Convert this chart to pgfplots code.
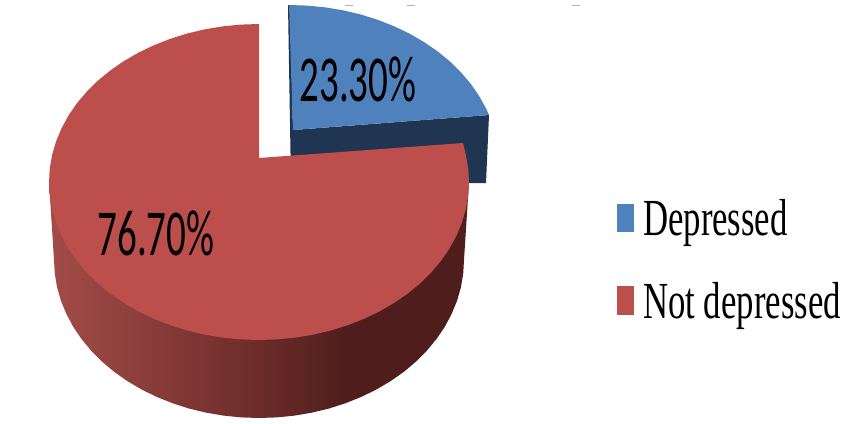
\documentclass[border=0pt]{standalone}
\usepackage{pgfplots}
\pgfplotsset{compat=1.18}
\usepackage{fontspec}
\setmainfont{Liberation Serif}
\newfontfamily\lab{Carlito}
\definecolor{pieblue}{HTML}{4F81BD}
\definecolor{piedark}{HTML}{1F3552}
\definecolor{piered}{HTML}{BC4E4B}
\definecolor{sideA}{HTML}{A34C49}
\definecolor{sideB}{HTML}{6C2C29}
\definecolor{sideC}{HTML}{4F1E1C}
\pgfdeclarehorizontalshading{sideshade}{100bp}{color(0bp)=(sideA);color(25bp)=(sideA);color(50bp)=(sideB);color(60bp)=(sideC);color(100bp)=(sideC)}
\begin{document}
\begin{tikzpicture}
\useasboundingbox (0,0) rectangle (851pt,423pt);
\begin{axis}[
  at={(0,0)}, anchor=south west,
  scale only axis, width=851pt, height=423pt,
  xmin=0, xmax=851, ymin=0, ymax=423, y dir=reverse,
  hide axis, clip=true]
% faint ticks at the top
\addplot[gray!60, line width=1pt] coordinates {(345,5) (353,5)};
\addplot[gray!60, line width=1pt] coordinates {(407,5) (415,5)};
\addplot[gray!60, line width=1pt] coordinates {(572,5) (580,5)};
% Depressed side
\addplot[fill=piedark, draw=none] coordinates {(288,5) (290,5) (293,130) (489,115) (486,183) (291,183)} -- cycle;
% Depressed top
\addplot[fill=pieblue, draw=none] coordinates {(289,5) (307.3,5.6) (325.5,7.4) (343.4,10.4) (360.8,14.5) (377.7,19.8) (394,26.2) (409.5,33.6) (424,42) (437.5,51.3) (449.9,61.4) (461,72.4) (470.9,84) (479.3,96.2) (486.3,109) (489,115) (293,130)} -- cycle;
% Not depressed side
\addplot[shading=sideshade, draw=none] coordinates {(49,182) (54,260) (54.8,273.8) (57.1,287.4) (61,300.9) (66.4,314) (73.2,326.8) (81.5,339) (91.1,350.6) (102,361.6) (114,371.7) (127.2,381) (141.4,389.4) (156.5,396.8) (172.4,403.2) (188.9,408.5) (205.9,412.6) (223.4,415.6) (241.1,417.4) (259,418) (276.9,417.4) (294.6,415.6) (312.1,412.6) (329.1,408.5) (345.6,403.2) (361.5,396.8) (376.6,389.4) (390.8,381) (404,371.7) (416,361.6) (426.9,350.6) (436.5,339) (444.8,326.8) (451.6,314) (457,300.9) (460.9,287.4) (463.2,273.8) (464,260) (469,182)} -- cycle;
% Not depressed top
\addplot[fill=piered, draw=none] coordinates {(259,24) (240.7,24.6) (222.5,26.4) (204.6,29.4) (187.2,33.5) (170.3,38.8) (154,45.2) (138.5,52.6) (124,61) (110.5,70.3) (98.1,80.4) (87,91.4) (77.1,103) (68.7,115.2) (61.7,128) (56.2,141.1) (52.2,154.6) (49.8,168.2) (49,182) (49.8,195.8) (52.2,209.4) (56.2,222.9) (61.7,236) (68.7,248.8) (77.1,261) (87,272.6) (98.1,283.6) (110.5,293.7) (124,303) (138.5,311.4) (154,318.8) (170.3,325.2) (187.2,330.5) (204.6,334.6) (222.5,337.6) (240.7,339.4) (259,340) (277.3,339.4) (295.5,337.6) (313.4,334.6) (330.8,330.5) (347.7,325.2) (364,318.8) (379.5,311.4) (394,303) (407.5,293.7) (419.9,283.6) (431,272.6) (440.9,261) (449.3,248.8) (456.3,236) (461.8,222.9) (465.8,209.4) (468.2,195.8) (469,182) (468.2,168.2) (465.8,154.6) (463,143) (259,158)} -- cycle;
% legend keys
\addplot[fill=pieblue, draw=none] coordinates {(617,204) (634,204) (634,232) (617,232)} -- cycle;
\addplot[fill=piered, draw=none] coordinates {(617,286) (634,286) (634,315) (617,315)} -- cycle;
\node[inner sep=0pt, anchor=center] at (axis cs:358,79) {\scalebox{1}[1.68]{\lab\fontsize{39}{39}\selectfont 23.30\%}};
\node[inner sep=0pt, anchor=center] at (axis cs:156,233.5) {\scalebox{1}[1.68]{\lab\fontsize{39}{39}\selectfont 76.70\%}};
\node[inner sep=0pt, anchor=base west] at (axis cs:643,235) {\scalebox{1}[1.5]{\fontsize{34.7}{35}\selectfont Depressed}};
\node[inner sep=0pt, anchor=base west] at (axis cs:643,318) {\scalebox{1}[1.5]{\fontsize{34.7}{35}\selectfont Not depressed}};
\end{axis}
\end{tikzpicture}
\end{document}
